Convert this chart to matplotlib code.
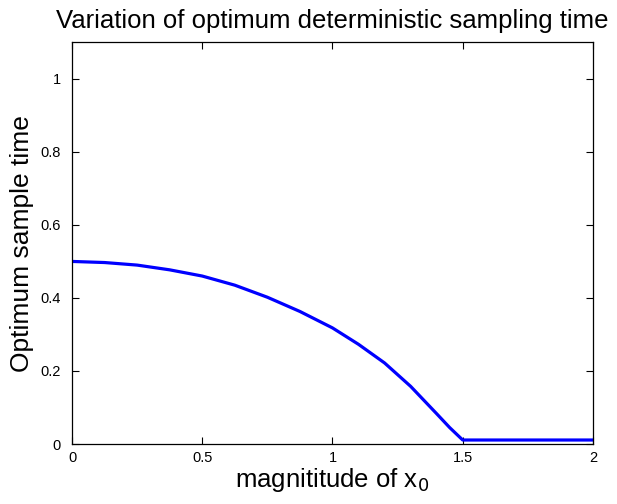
import matplotlib.pyplot as plt

plt.rcParams['font.family'] = ['Liberation Sans', 'DejaVu Sans']

# values
x_magnitude = [0.0, 0.125, 0.25, 0.375, 0.5, 0.625, 0.75, 0.875, 1.0, 1.1, 1.2, 1.3, 1.4, 1.45, 1.5, 2.0]
sample_time = [0.500, 0.497, 0.490, 0.477, 0.460, 0.435, 0.402, 0.363, 0.318, 0.273, 0.222, 0.158, 0.083, 0.045, 0.011, 0.011]

x_ticks = [0, 0.5, 1, 1.5, 2]
x_tick_labels = ['0', '0.5', '1', '1.5', '2']
y_ticks = [0, 0.2, 0.4, 0.6, 0.8, 1]
y_tick_labels = ['0', '0.2', '0.4', '0.6', '0.8', '1']

fig = plt.figure(figsize=(6.17, 5.04), dpi=100)
ax = fig.add_axes([0.1167, 0.119, 0.8443, 0.797])

ax.plot(x_magnitude, sample_time, color='#0000ff', linewidth=2.3)

ax.set_xlim(0, 2)
ax.set_ylim(0, 1.1)
ax.set_xticks(x_ticks)
ax.set_xticklabels(x_tick_labels)
ax.set_yticks(y_ticks)
ax.set_yticklabels(y_tick_labels)

ax.tick_params(direction='in', top=True, right=True, length=5, width=0.8, labelsize=10.5)
ax.tick_params(axis='x', pad=5)
ax.tick_params(axis='y', pad=8)
for sp in ax.spines.values():
    sp.set_linewidth(0.9)

ax.set_title('Variation of optimum deterministic sampling time', fontsize=18.5, pad=10)
ax.set_xlabel('magnititude of x$_0$', fontsize=18.5, labelpad=1)
ax.set_ylabel('Optimum sample time', fontsize=19, labelpad=5)

plt.savefig('out.png', dpi=100)
plt.close(fig)
